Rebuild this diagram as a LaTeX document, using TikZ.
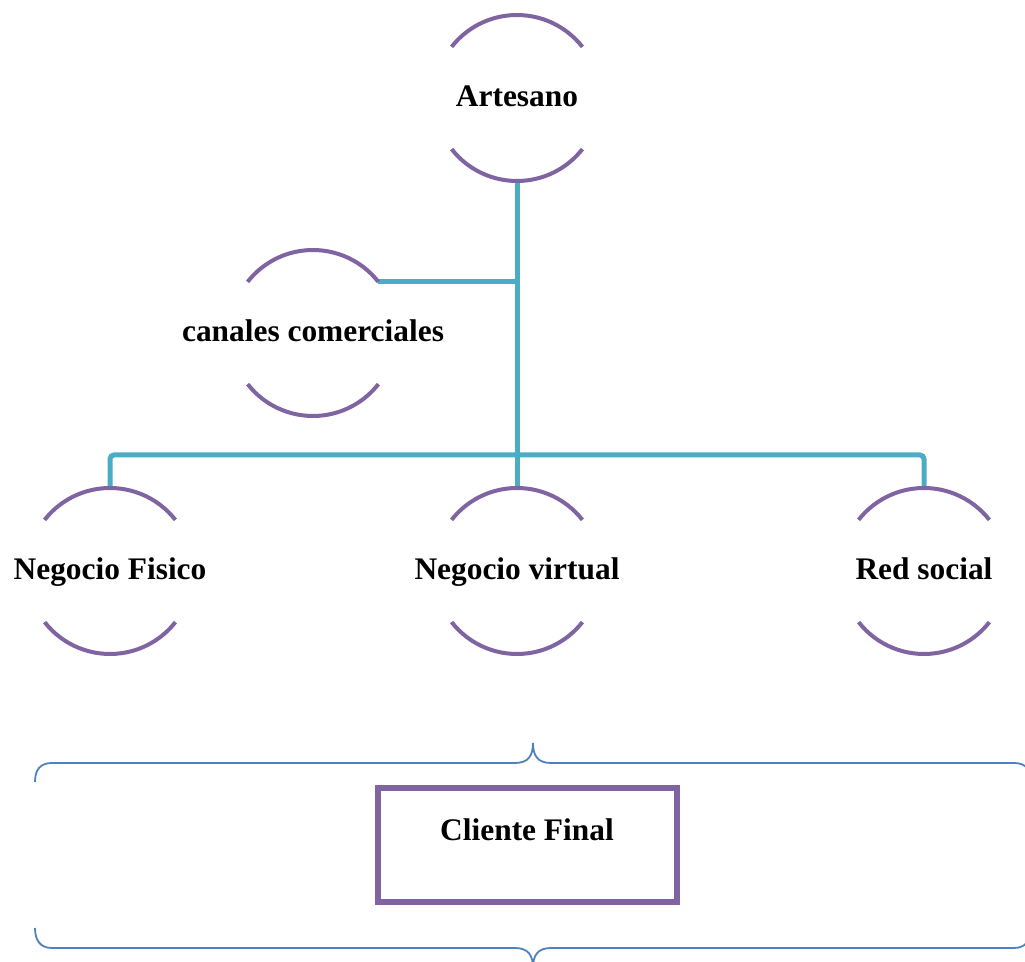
\documentclass[tikz,border=0pt]{standalone}
\usepackage{fontspec}
\setmainfont{Liberation Serif}
\usepackage{tikz}
\definecolor{morado}{HTML}{8064A2}
\definecolor{turquesa}{HTML}{4BACC6}
\definecolor{azul}{HTML}{4F81BD}
\newcommand{\etiq}[1]{\makebox[0pt]{#1}}

\begin{document}
\begin{tikzpicture}[x=0.5pt,y=-0.5pt,
    ciclo/.style={circle,minimum size=83pt,inner sep=0pt,outer sep=0pt,text height=11pt,text depth=2.2pt,font=\fontsize{15.7}{19}\selectfont\bfseries},
    arco/.style={morado,line width=2pt},
    conector/.style={turquesa,line width=2.5pt,rounded corners=2pt},
    llave/.style={azul,line width=0.9pt},
    caja/.style={draw=morado,line width=3pt,minimum width=149.5pt,minimum height=57pt,inner sep=0pt}]
    \useasboundingbox (0,0) rectangle (1025,962);

    % Nodes
    \node[ciclo] (art) at (517,98) {\etiq{Artesano}};
    \node[ciclo] (can) at (313,333) {\etiq{canales comerciales}};
    \node[ciclo] (fis) at (110,571) {\etiq{Negocio Fisico}};
    \node[ciclo] (vir) at (517,571) {\etiq{Negocio virtual}};
    \node[ciclo] (red) at (924,571) {\etiq{Red social}};
    \coordinate (bus) at (517,455);

    % Connectors
    \draw[conector] (art.south) -- (vir.north);
    \draw[conector] (can.38) -- (can.38 -| art.south);
    \draw[conector] (fis.north) |- (bus) -| (red.north);

    % Arcs
    \foreach \n in {art,can,fis,vir,red}{
        \draw[arco] (\n.38) arc[start angle=38,end angle=142,radius=41.5pt];
        \draw[arco] (\n.218) arc[start angle=218,end angle=322,radius=41.5pt];
    }

    % Braces
    \draw[llave] (35,782) .. controls (35,770) and (40,763) .. (52,763) -- (515,763)
        .. controls (528,763) and (533,756) .. (533,743)
        .. controls (533,756) and (538,763) .. (551,763) -- (1014,763)
        .. controls (1026,763) and (1031,770) .. (1031,782);
    \draw[llave] (35,928) .. controls (35,940) and (40,948) .. (52,948) -- (515,948)
        .. controls (528,948) and (533,955) .. (533,968)
        .. controls (533,955) and (538,948) .. (551,948) -- (1014,948)
        .. controls (1026,948) and (1031,940) .. (1031,928);

    % Final client
    \node[caja] (clientebox) at (527.5,845) {};
    \node[font=\fontsize{15.7}{19}\selectfont\bfseries] (cliente) at (527,830) {Cliente Final};
\end{tikzpicture}
\end{document}
